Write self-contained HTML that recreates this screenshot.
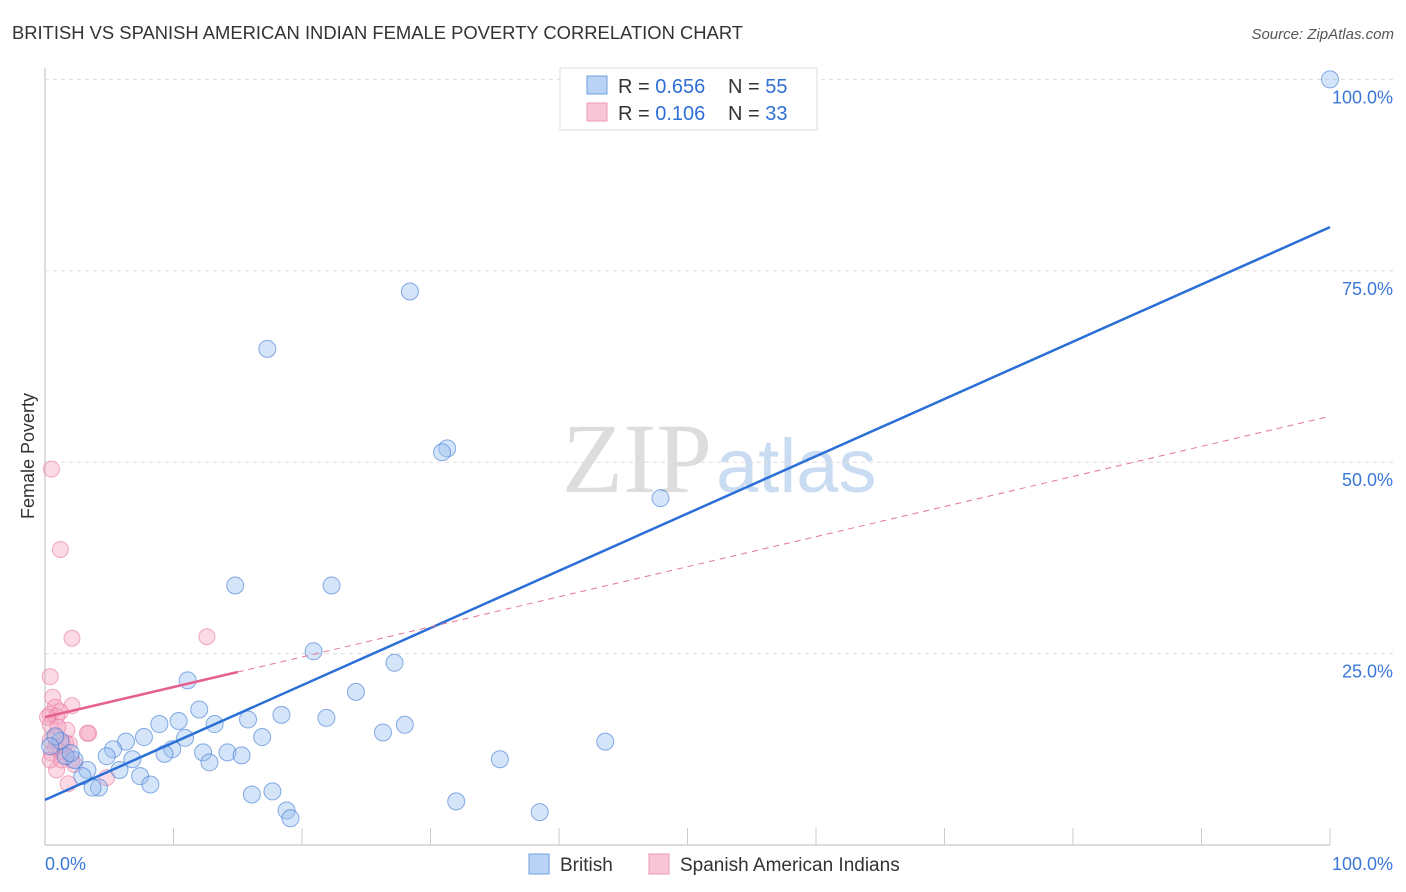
<!DOCTYPE html>
<html><head><meta charset="utf-8"><style>
body{margin:0;background:#fff;font-family:"Liberation Sans",sans-serif}
svg{display:block}
</style></head><body>
<svg id="c" width="1406" height="892">
<text x="12" y="39" font-size="18.4" fill="#333">BRITISH VS SPANISH AMERICAN INDIAN FEMALE POVERTY CORRELATION CHART</text>
<text x="1394" y="39" font-size="15" fill="#555" font-style="italic" text-anchor="end">Source: ZipAtlas.com</text>
<text x="34" y="456" font-size="18" fill="#333" transform="rotate(-90 34 456)" text-anchor="middle">Female Poverty</text>
<text x="712" y="492" font-size="100" fill="#ddd" font-family="Liberation Serif,serif" text-anchor="end">ZIP</text>
<text x="716" y="492" font-size="76" fill="#c9dcf2">atlas</text>
<g id="grid"></g><g id="marks"></g>
<g>
<rect x="560" y="68" width="257" height="62" fill="#fff" stroke="#ddd"/>
<rect x="587" y="76" width="20" height="18" fill="#b8d3f5" stroke="#6fa0e0"/>
<rect x="587" y="103" width="20" height="18" fill="#f8c6d6" stroke="#eb98b4"/>
<text x="618" y="93" font-size="20" fill="#333">R = <tspan fill="#2f6fd6">0.656</tspan><tspan x="728">N = </tspan><tspan fill="#2f6fd6">55</tspan></text>
<text x="618" y="120" font-size="20" fill="#333">R = <tspan fill="#2f6fd6"> 0.106</tspan><tspan x="728">N = </tspan><tspan fill="#2f6fd6">33</tspan></text>
</g>
<g>
<rect x="529" y="854" width="20" height="20" fill="#b8d3f5" stroke="#6fa0e0"/>
<text x="560" y="871" font-size="19" fill="#333">British</text>
<rect x="649" y="854" width="20" height="20" fill="#f8c6d6" stroke="#eb98b4"/>
<text x="680" y="871" font-size="19" fill="#333">Spanish American Indians</text>
</g>
</svg>
<script>
const yTicks=[25,50,75,100];
const britishX=[100,28.4,17.3,31.3,30.9,47.9,14.8,22.3,20.9,27.2,11.1,24.2,12.0,18.4,21.9,15.8,10.4,8.9,13.2,28.0,7.7,26.3,16.9,10.9,6.3,5.3,9.9,43.6,14.2,15.3,9.3,12.3,4.8,6.8,12.8,35.4,2.3,3.3,5.8,7.4,2.9,8.2,4.2,3.7,16.1,17.7,18.8,19.1,32.0,38.5,1.2,0.8,1.6,2.0,0.4];
const britishY=[100,72.3,64.8,51.8,51.3,45.3,33.9,33.9,25.3,23.8,21.5,20.0,17.7,17.0,16.6,16.4,16.2,15.8,15.8,15.7,14.1,14.7,14.1,14.0,13.5,12.5,12.5,13.5,12.1,11.7,11.9,12.1,11.6,11.2,10.8,11.2,11.1,9.8,9.8,9.0,9.0,7.9,7.5,7.5,6.6,7.0,4.5,3.5,5.7,4.3,13.6,14.2,11.6,12.0,12.9];
const spanishX=[0.5,1.2,2.1,12.6,0.4,0.6,2.1,0.8,1.2,0.4,0.9,3.4,3.3,1.7,0.4,1.0,0.4,1.4,0.8,1.9,1.2,0.5,1.6,2.1,0.9,1.8,4.8,0.4,0.2,1.3,0.8,1.6,2.3];
const spanishY=[49.1,38.6,27.0,27.2,22.0,19.3,18.2,18.0,17.4,17.1,16.8,14.6,14.6,15.0,15.7,15.4,13.7,13.1,12.7,13.2,12.2,12.0,11.6,11.1,9.8,8.0,8.8,11.1,16.7,11.1,14.1,13.3,10.5];
const britishFit=[5.9,80.7];
const spanishFit=[16.7,56.0];
const X=v=>45+v*12.85, Y=v=>845-v*7.656;
const NS='http://www.w3.org/2000/svg';
function mk(t,a,p){const e=document.createElementNS(NS,t);for(const k in a)e.setAttribute(k,a[k]);p.appendChild(e);return e;}
const g=document.getElementById('grid'),m=document.getElementById('marks');
mk('line',{x1:45,y1:68,x2:45,y2:845,stroke:'#bbb'},g);
mk('line',{x1:45,y1:845,x2:1330,y2:845,stroke:'#bbb'},g);
for(let i=1;i<=10;i++){const l=mk('line',{x1:X(i*10),x2:X(i*10),y1:828,y2:845,stroke:'#ccc'},g);}
yTicks.forEach(t=>{
 const l=mk('line',{x1:45,x2:1395,y1:Y(t),y2:Y(t),stroke:'#ddd','stroke-dasharray':'4,4'},g);
 
 
 const tx=mk('text',{x:1393,y:Y(t)+24,'font-size':18,fill:'#3a78d8','text-anchor':'end'},g);
 tx.textContent=t.toFixed(1)+'%';
 
 
});
const x0=mk('text',{x:45,y:870,'font-size':18,fill:'#3a78d8'},g);x0.textContent='0.0%';


const x1=mk('text',{x:1393,y:870,'font-size':18,fill:'#3a78d8','text-anchor':'end'},g);x1.textContent='100.0%';


spanishX.forEach((v,i)=>{const c=mk('circle',{cx:X(v),cy:Y(spanishY[i]),r:8,fill:'rgba(244,160,190,0.4)',stroke:'rgba(232,120,160,0.6)'},m);
 
 });
britishX.forEach((v,i)=>{const c=mk('circle',{cx:X(v),cy:Y(britishY[i]),r:8.5,fill:'rgba(150,190,240,0.4)',stroke:'rgba(60,120,210,0.6)'},m);
 
 });
const bl=mk('line',{x1:X(0),y1:Y(britishFit[0]),x2:X(100),y2:Y(britishFit[1]),stroke:'#2a6fd6','stroke-width':2.5},m);


const sp=v=>spanishFit[0]+(spanishFit[1]-spanishFit[0])*v/100;
const sd=mk('line',{x1:X(15),y1:Y(sp(15)),x2:X(100),y2:Y(sp(100)),stroke:'#e57399','stroke-width':1,'stroke-dasharray':'6,5'},m);


const ss=mk('line',{x1:X(0),y1:Y(sp(0)),x2:X(15),y2:Y(sp(15)),stroke:'#e5608e','stroke-width':2.5},m);


</script>
</body></html>
